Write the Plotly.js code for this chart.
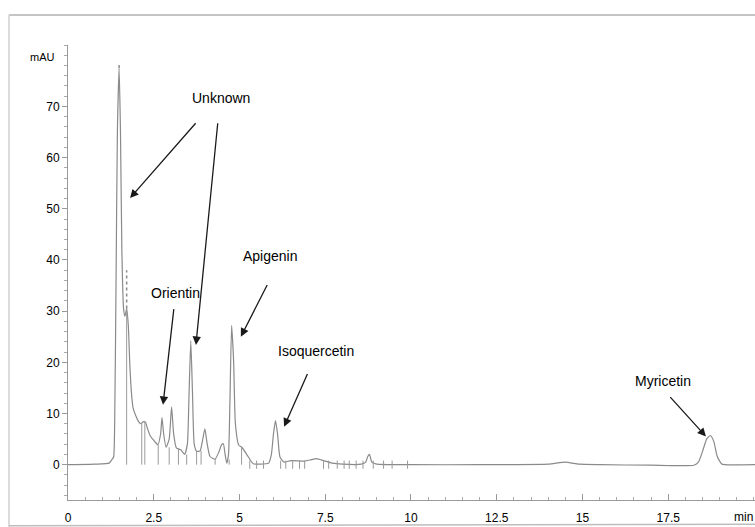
<!DOCTYPE html>
<html>
<head>
<meta charset="utf-8">
<script src="https://cdn.plot.ly/plotly-3.0.1.min.js"></script>
<style>
  html, body { margin: 0; padding: 0; background: #fff; }
  #chart { width: 755px; height: 527px; }
</style>
</head>
<body>
<div id="chart"></div>
<script>
// Retention time (min) and absorbance (mAU)
const times = [0, 0.8, 1.2, 1.28, 1.33, 1.36, 1.40, 1.44, 1.49, 1.53, 1.57, 1.62, 1.66, 1.71, 1.76, 1.80, 1.85, 1.90, 1.98, 2.05, 2.12, 2.20, 2.26, 2.32, 2.40, 2.52, 2.62, 2.70, 2.74, 2.79, 2.86, 2.95, 3.02, 3.08, 3.16, 3.29, 3.40, 3.48, 3.53, 3.58, 3.63, 3.68, 3.75, 3.85, 3.93, 3.99, 4.06, 4.14, 4.29, 4.40, 4.48, 4.53, 4.58, 4.63, 4.68, 4.72, 4.77, 4.83, 4.88, 4.98, 5.07, 5.25, 5.40, 5.60, 5.85, 5.93, 5.99, 6.05, 6.11, 6.18, 6.30, 6.50, 6.90, 7.10, 7.25, 7.45, 7.70, 8.00, 8.55, 8.68, 8.74, 8.79, 8.86, 9.00, 10.0, 12.0, 14.0, 14.5, 14.9, 15.5, 17.0, 18.25, 18.38, 18.50, 18.62, 18.73, 18.83, 18.93, 19.05, 19.15, 20.1];
const absorbance = [0, 0.1, 0.3, 1.0, 1.5, 8, 35, 65, 77.5, 65, 42, 30.5, 29, 30.5, 27, 20, 14, 11, 9.5, 8.5, 8.0, 8.4, 8.3, 7.0, 5.6, 4.6, 3.9, 6.0, 9.2, 6.0, 3.4, 5.0, 11.3, 6.0, 3.3, 2.9, 2.0, 4.0, 14, 24.2, 14, 4.0, 2.6, 2.7, 5.0, 7.0, 4.0, 1.6, 1.1, 2.5, 3.9, 4.1, 2.0, 0.3, 2.0, 12, 27.2, 20, 8, 3.8, 3.4, 1.6, 0.2, 0.1, 0.3, 2.0, 6.0, 8.6, 6.0, 1.5, 0.5, 0.8, 0.7, 1.0, 1.2, 0.8, 0.3, 0.1, 0.1, 0.5, 1.6, 2.0, 0.5, 0.1, 0, 0, 0.1, 0.5, 0.1, 0, -0.1, -0.1, 0.5, 2.6, 5.0, 5.7, 4.5, 1.6, 0.2, 0, 0];

// Integration marks (vertical drop lines) and their tops
const markerTimes = [1.71, 2.15, 2.24, 2.63, 2.95, 3.22, 3.46, 3.75, 3.88, 4.29, 4.70, 5.06];
const markerTops = [30.5, 8.2, 8.3, 3.9, 3.4, 3.1, 2.0, 2.6, 2.7, 1.1, 1.0, 3.4];
// Dotted apex marks above the first two peaks
const apexTimes = [1.49, 1.71];
const apexLow = [77.5, 30.5];
const apexHigh = [78.5, 38];
// Small baseline ticks after 5 min
const smallTickTimes = [5.3, 5.5, 5.7, 6.2, 6.35, 6.55, 6.75, 6.9, 7.45, 7.6, 7.85, 8.05, 8.2, 8.4, 8.6, 8.9, 9.2, 9.45, 9.9];

const xTickVals = [0, 2.5, 5, 7.5, 10, 12.5, 15, 17.5];
const xTickText = ['0', '2.5', '5', '7.5', '10', '12.5', '15', '17.5'];
const yTickVals = [0, 10, 20, 30, 40, 50, 60, 70];

// Compound labels: text position and arrow tail/head
const labelNames = ['Unknown', 'Orientin', 'Apigenin', 'Isoquercetin', 'Myricetin'];
const labelX = [4.46, 3.12, 5.89, 7.23, 17.35];
const labelY = [71.7, 33.6, 40.8, 22.3, 16.4];
const arrowTailX = [3.76, 4.37, 3.09, 5.83, 7.00, 17.52];
const arrowTailY = [67.0, 67.0, 30.7, 35.4, 18.0, 13.5];
const arrowHeadX = [1.81, 3.73, 2.77, 5.04, 6.30, 18.60];
const arrowHeadY = [52.1, 23.4, 11.7, 25.0, 7.4, 5.5];

const FONT = '"Liberation Sans", Arial, sans-serif';

const mx = [], my = [];
markerTimes.forEach((t, i) => { mx.push(t, t, null); my.push(0, markerTops[i], null); });
smallTickTimes.forEach((t) => { mx.push(t, t, null); my.push(-0.8, 0.8, null); });
const dx = [], dy = [];
apexTimes.forEach((t, i) => { dx.push(t, t, null); dy.push(apexLow[i], apexHigh[i], null); });

const traces = [
  {
    x: times, y: absorbance, type: 'scatter', mode: 'lines',
    line: { color: '#8a8a8a', width: 1.2, shape: 'spline', smoothing: 0.5 },
    hoverinfo: 'skip'
  },
  {
    x: mx, y: my, type: 'scatter', mode: 'lines',
    line: { color: '#9a9a9a', width: 1 },
    hoverinfo: 'skip'
  },
  {
    x: dx, y: dy, type: 'scatter', mode: 'lines',
    line: { color: '#8a8a8a', width: 1.5, dash: 'dot' },
    hoverinfo: 'skip'
  }
];

const annotations = [];
labelNames.forEach((name, i) => {
  annotations.push({
    x: labelX[i], y: labelY[i], xref: 'x', yref: 'y', text: name, showarrow: false,
    font: { family: FONT, size: 14, color: '#000' }
  });
});
arrowTailX.forEach((ax, i) => {
  annotations.push({
    x: arrowHeadX[i], y: arrowHeadY[i], ax: ax, ay: arrowTailY[i],
    xref: 'x', yref: 'y', axref: 'x', ayref: 'y', text: '', showarrow: true,
    arrowhead: 2, arrowsize: 1.3, arrowwidth: 1.3, arrowcolor: '#1a1a1a', standoff: 0
  });
});
annotations.push({
  x: -0.0364, y: 79.7, xref: 'paper', yref: 'y', text: 'mAU', showarrow: false,
  xanchor: 'center', font: { family: FONT, size: 11, color: '#000' }
});
annotations.push({
  x: 1, y: -0.0374, xref: 'paper', yref: 'paper', text: 'min', showarrow: false,
  xanchor: 'right', yanchor: 'middle', font: { family: FONT, size: 12, color: '#000' }
});

const layout = {
  width: 755, height: 527,
  margin: { l: 68, r: 0, t: 45, b: 27 },
  paper_bgcolor: '#fff', plot_bgcolor: '#fff',
  showlegend: false,
  xaxis: {
    range: [0, 20.03], showgrid: false, zeroline: false,
    showline: true, linecolor: '#9a9a9a', linewidth: 1,
    tickmode: 'array', tickvals: xTickVals, ticktext: xTickText,
    ticks: 'inside', ticklen: 6, tickcolor: '#9a9a9a', tickwidth: 1,
    ticklabelstandoff: 7,
    minor: { dtick: 0.5, ticks: 'inside', ticklen: 3, tickcolor: '#aaa', showgrid: false },
    tickfont: { family: FONT, size: 12, color: '#000' }
  },
  yaxis: {
    range: [-6.9, 82], showgrid: false, zeroline: false,
    showline: true, linecolor: '#9a9a9a', linewidth: 1,
    tickmode: 'array', tickvals: yTickVals,
    ticks: 'outside', ticklen: 5, tickcolor: '#9a9a9a', tickwidth: 1,
    minor: { dtick: 2, ticks: 'outside', ticklen: 3, tickcolor: '#aaa', showgrid: false },
    tickfont: { family: FONT, size: 12, color: '#000' }
  },
  shapes: [
    { type: 'line', xref: 'paper', yref: 'paper', x0: -0.0859, x1: 1.01, y0: 1.066, y1: 1.066, line: { color: '#c4c4c4', width: 2 } },
    { type: 'line', xref: 'paper', yref: 'paper', x0: -0.0859, x1: -0.0859, y0: 1.066, y1: -0.06, line: { color: '#d0d0d0', width: 1.5 } },
    { type: 'line', xref: 'paper', yref: 'paper', x0: -0.0859, x1: 1.01, y0: -0.0565, y1: -0.053, line: { color: '#bdbdbd', width: 1.5 } }
  ],
  annotations: annotations
};

Plotly.newPlot('chart', traces, layout, { displayModeBar: false, staticPlot: true });
</script>
</body>
</html>
